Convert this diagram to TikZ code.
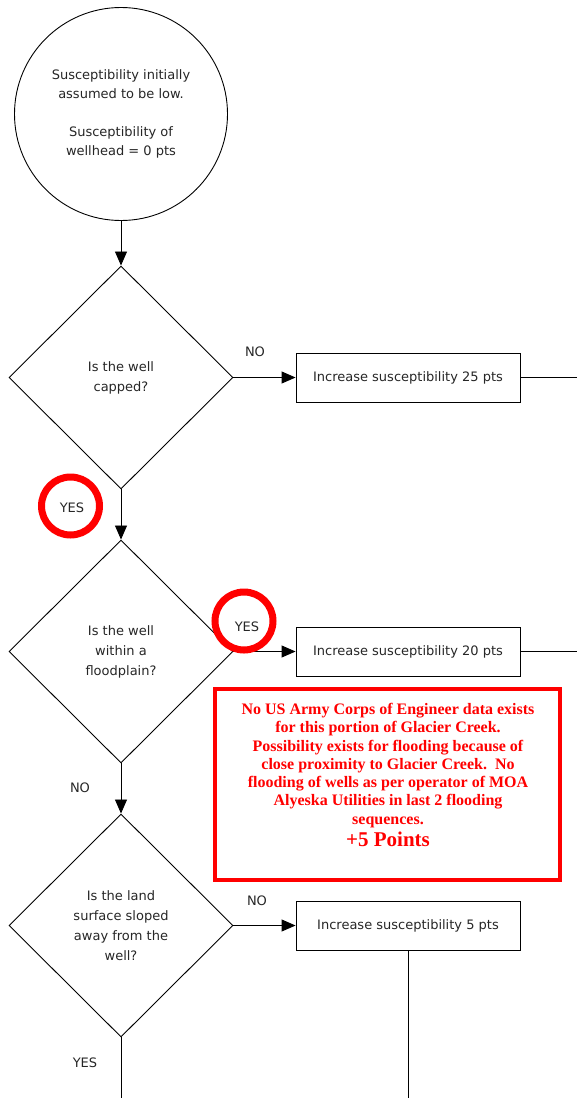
\documentclass[tikz,border=0pt]{standalone}
\usepackage{fontspec}
\setmainfont{DejaVu Sans}
\newfontfamily\notefont{Liberation Serif}
\usetikzlibrary{shapes.geometric,arrows.meta}

\begin{document}
\begin{tikzpicture}[x=1pt,y=1pt]
\tikzstyle{every node}+=[inner sep=0pt,font=\fontsize{13}{19}\selectfont,text=black!85]
\tikzstyle{flowline}=[black,line width=0.9pt]
\tikzstyle{arrowline}=[flowline,-{Triangle[length=14pt,width=12pt]}]
\tikzstyle{question}=[draw,diamond,minimum width=224pt,minimum height=223pt,align=center,line width=0.9pt,font=\fontsize{13}{20}\selectfont]
\tikzstyle{action}=[draw,rectangle,minimum width=224pt,minimum height=49pt,line width=0.9pt]
\tikzstyle{hilite}=[draw=red,circle,line width=7pt,minimum size=58pt]
\useasboundingbox (0,0) rectangle (577,-1098);
\node [draw,circle,minimum size=213pt,line width=0.9pt,align=center] (start) at (121,-114) {Susceptibility initially\\assumed to be low.\\[19pt]Susceptibility of\\wellhead = 0 pts};
\node [question] (capped) at (121,-377.5) {Is the well\\capped?};
\node [question] (flood) at (121,-651.5) {Is the well\\within a\\floodplain?};
\node [question] (slope) at (121,-925.5) {Is the land\\surface sloped\\away from the\\well?};
\node [action] (add25) at (408,-377.5) {Increase susceptibility 25 pts};
\node [action] (add20) at (408,-651.5) {Increase susceptibility 20 pts};
\node [action] (add5) at (408,-925.5) {Increase susceptibility 5 pts};
\coordinate (exit25) at (577,-377.5);
\coordinate (exit20) at (577,-651.5);
\coordinate (exit5) at (408,-1098);
\coordinate (down) at (121,-1098);
\draw [arrowline] (start) -- (capped);
\draw [arrowline] (capped) -- (flood);
\draw [arrowline] (flood) -- (slope);
\draw [arrowline] (capped) -- (add25);
\draw [arrowline] (flood) -- (add20);
\draw [arrowline] (slope) -- (add5);
\draw [flowline] (add25) -- (exit25);
\draw [flowline] (add20) -- (exit20);
\draw [flowline] (add5) -- (exit5);
\draw [flowline] (slope) -- (down);
\node (no25) at (255,-352) {NO};
\node (yescap) at (72,-508) {YES};
\node (yesflood) at (247,-627) {YES};
\node (noflood) at (80,-788) {NO};
\node (noslope) at (257,-901) {NO};
\node (yesslope) at (85,-1063) {YES};
\node [hilite] (ring1) at (70.5,-506) {};
\node [hilite] (ring2) at (244,-621) {};
\node [draw=red,line width=4pt,minimum width=345pt,minimum height=191pt] (note) at (387.5,-784.5) {};
\node [anchor=north,align=center,text=red,font=\notefont\bfseries\fontsize{16}{18.3}\selectfont] (notetext) at (388,-703) {No US Army Corps of Engineer data exists\\for this portion of Glacier Creek.\\Possibility exists for flooding because of\\close proximity to Glacier Creek.\ \ No\\flooding of wells as per operator of MOA\\Alyeska Utilities in last 2 flooding\\sequences.\\[4pt]{\fontsize{21}{21}\selectfont +5 Points}};
\end{tikzpicture}
\end{document}
